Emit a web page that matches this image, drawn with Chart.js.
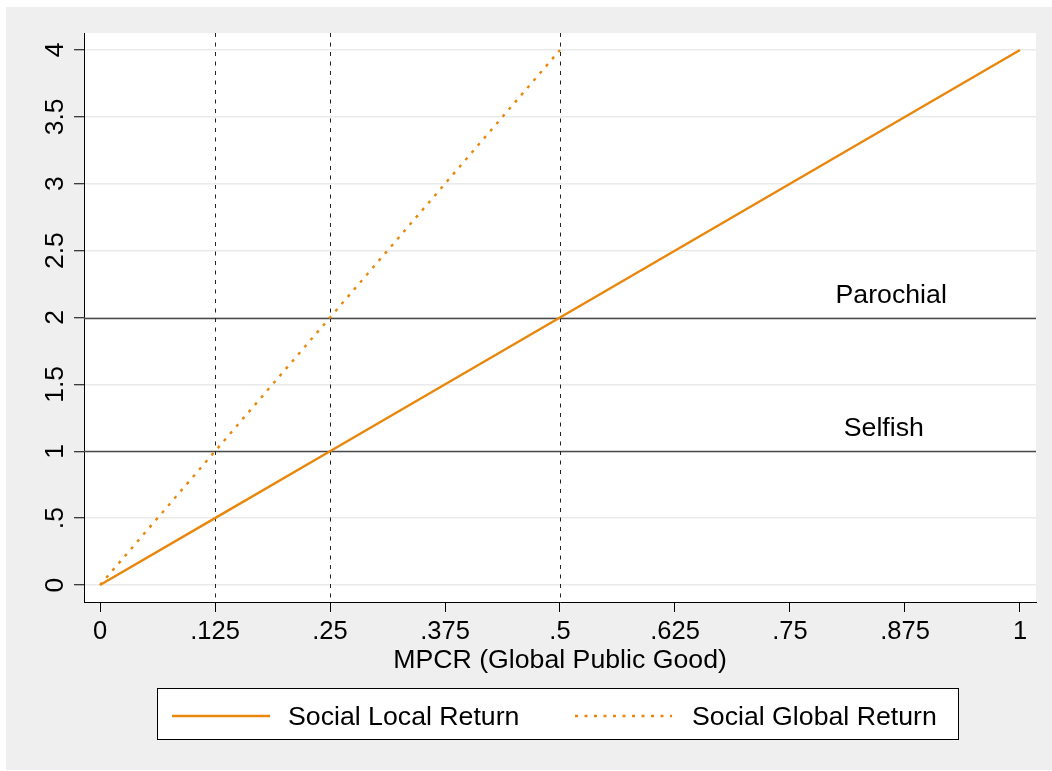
<!DOCTYPE html>
<html>
<head>
<meta charset="utf-8">
<script src="https://cdn.jsdelivr.net/npm/chart.js@4/dist/chart.umd.min.js"></script>
<style>
  html, body { margin: 0; padding: 0; background: #ffffff; }
  #wrap { width: 1052px; height: 771px; }
</style>
</head>
<body>
<div id="wrap"><canvas id="chart" width="1052" height="771"></canvas></div>
<script>
// MPCR values and the returns they produce
const localMpcr   = [0, 0.125, 0.25, 0.5, 1];
const localReturn = [0, 0.5, 1, 2, 4];
const globalMpcr   = [0, 0.125, 0.25, 0.5];
const globalReturn = [0, 1, 2, 4];

// Axis ticks
const xTicks = [0, 0.125, 0.25, 0.375, 0.5, 0.625, 0.75, 0.875, 1];
const yTicks = [0, 0.5, 1, 1.5, 2, 2.5, 3, 3.5, 4];

// Threshold lines and MPCR cut-offs
const thresholdLevels = [1, 2];
const cutoffMpcr = [0.125, 0.25, 0.5];

// Text labels placed in data space
const noteLabels = ['Parochial', 'Selfish'];
const noteX = [0.86, 0.852];
const noteY = [2.108, 1.116];

const seriesNames = ['Social Local Return', 'Social Global Return'];

const ORANGE = '#e8870b';
const FONT = '"Liberation Sans", Arial, Helvetica, sans-serif';

function fmt(v) {
  if (v === 0) return '0';
  return String(v).replace(/^0\./, '.');
}

const pts = (xs, ys) => xs.map((x, i) => ({ x: x, y: ys[i] }));

const decor = {
  id: 'decor',
  beforeDraw(chart) {
    const ctx = chart.ctx, a = chart.chartArea;
    ctx.save();
    ctx.fillStyle = '#ffffff';
    ctx.fillRect(0, 0, chart.width, chart.height);
    ctx.fillStyle = '#efefef';
    ctx.fillRect(6, 7, chart.width - 6, chart.height - 8);
    ctx.fillStyle = '#ffffff';
    ctx.fillRect(a.left, a.top, a.right - a.left, a.bottom - a.top);
    ctx.restore();
  },
  beforeDatasetsDraw(chart) {
    const ctx = chart.ctx, a = chart.chartArea;
    const xs = chart.scales.x, ys = chart.scales.y;
    ctx.save();
    // horizontal thresholds
    ctx.strokeStyle = '#4a4a4a';
    ctx.lineWidth = 1.3;
    thresholdLevels.forEach(v => {
      const py = Math.round(ys.getPixelForValue(v)) + 0.5;
      ctx.beginPath();
      ctx.moveTo(a.left, py);
      ctx.lineTo(a.right, py);
      ctx.stroke();
    });
    // dashed vertical cut-offs
    ctx.strokeStyle = '#222222';
    ctx.lineWidth = 1;
    ctx.setLineDash([4, 5.5]);
    cutoffMpcr.forEach(v => {
      const px = Math.round(xs.getPixelForValue(v)) + 0.5;
      ctx.beginPath();
      ctx.moveTo(px, a.top);
      ctx.lineTo(px, a.bottom);
      ctx.stroke();
    });
    ctx.restore();
  },
  afterDraw(chart) {
    const ctx = chart.ctx, a = chart.chartArea;
    const xs = chart.scales.x, ys = chart.scales.y;
    ctx.save();
    ctx.fillStyle = '#000000';
    // x tick labels
    ctx.font = '25.5px ' + FONT;
    ctx.textAlign = 'center';
    ctx.textBaseline = 'alphabetic';
    xs.ticks.forEach(t => {
      ctx.fillText(fmt(t.value), xs.getPixelForValue(t.value), 639);
    });
    // y tick labels, rotated
    ctx.font = '26.5px ' + FONT;
    ys.ticks.forEach(t => {
      ctx.save();
      ctx.translate(63, ys.getPixelForValue(t.value));
      ctx.rotate(-Math.PI / 2);
      ctx.textAlign = 'center';
      ctx.fillText(fmt(t.value), 0, 0);
      ctx.restore();
    });
    // x axis title
    ctx.font = '26.7px ' + FONT;
    ctx.textAlign = 'center';
    ctx.fillText('MPCR (Global Public Good)', (a.left + a.right) / 2, 668);
    // notes
    noteLabels.forEach((s, i) => {
      ctx.fillText(s, xs.getPixelForValue(noteX[i]), ys.getPixelForValue(noteY[i]));
    });
    // legend
    const box = { l: 157, t: 688, r: 959, b: 740 };
    ctx.fillStyle = '#ffffff';
    ctx.fillRect(box.l, box.t, box.r - box.l, box.b - box.t);
    ctx.strokeStyle = '#000000';
    ctx.lineWidth = 1;
    ctx.strokeRect(box.l + 0.5, box.t + 0.5, box.r - box.l - 1, box.b - box.t - 1);
    const midY = 716;
    const entries = [
      { x0: 172, x1: 270, tx: 288 },
      { x0: 575, x1: 672, tx: 692 }
    ];
    chart.data.datasets.forEach((ds, i) => {
      const e = entries[i];
      ctx.strokeStyle = ds.borderColor;
      ctx.lineWidth = ds.borderWidth;
      ctx.setLineDash(ds.borderDash || []);
      ctx.beginPath();
      ctx.moveTo(e.x0, midY);
      ctx.lineTo(e.x1, midY);
      ctx.stroke();
      ctx.setLineDash([]);
      ctx.fillStyle = '#000000';
      ctx.font = '26.7px ' + FONT;
      ctx.textAlign = 'left';
      ctx.textBaseline = 'alphabetic';
      ctx.fillText(ds.label, e.tx, midY + 9);
    });
    ctx.restore();
  }
};

new Chart(document.getElementById('chart'), {
  type: 'scatter',
  data: {
    datasets: [
      {
        label: seriesNames[0],
        data: pts(localMpcr, localReturn),
        showLine: true,
        borderColor: ORANGE,
        borderWidth: 2.4,
        pointRadius: 0,
        fill: false
      },
      {
        label: seriesNames[1],
        data: pts(globalMpcr, globalReturn),
        showLine: true,
        borderColor: ORANGE,
        borderWidth: 2.4,
        borderDash: [3, 6.5],
        pointRadius: 0,
        fill: false
      }
    ]
  },
  options: {
    responsive: false,
    animation: false,
    devicePixelRatio: 1,
    layout: { padding: { top: 33, right: 16, bottom: 0, left: 0 } },
    plugins: {
      legend: { display: false },
      tooltip: { enabled: false },
      title: { display: false }
    },
    scales: {
      x: {
        type: 'linear',
        min: -0.0174,
        max: 1.0174,
        afterBuildTicks(scale) { scale.ticks = xTicks.map(v => ({ value: v })); },
        afterFit(scale) { scale.height = 169; },
        ticks: { display: false },
        grid: { color: 'rgba(0,0,0,0)', tickColor: '#000000', tickLength: 10, tickWidth: 1 },
        border: { display: true, color: '#000000', width: 1 }
      },
      y: {
        type: 'linear',
        min: -0.127,
        max: 4.127,
        afterBuildTicks(scale) { scale.ticks = yTicks.map(v => ({ value: v })); },
        afterFit(scale) { scale.width = 84; },
        ticks: { display: false },
        grid: { color: '#eaeaea', lineWidth: 1.5, tickColor: '#000000', tickLength: 10, tickWidth: 1 },
        border: { display: true, color: '#000000', width: 1 }
      }
    }
  },
  plugins: [decor]
});
</script>
</body>
</html>
